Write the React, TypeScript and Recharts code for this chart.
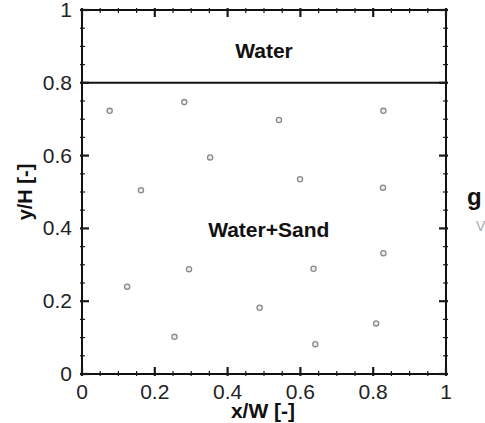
import {
  ScatterChart,
  Scatter,
  XAxis,
  YAxis,
  ReferenceLine,
  ReferenceDot,
  Customized,
} from 'recharts';

const FONT = '"Liberation Sans", Arial, sans-serif';

// particle positions (x/W, y/H)
const POINT_X = [0.076, 0.281, 0.541, 0.828, 0.352, 0.162, 0.599, 0.827, 0.828, 0.294, 0.636, 0.124, 0.488, 0.808, 0.254, 0.641];
const POINT_Y = [0.723, 0.747, 0.698, 0.723, 0.595, 0.505, 0.535, 0.512, 0.332, 0.288, 0.289, 0.24, 0.182, 0.139, 0.102, 0.082];

const MAJOR_TICKS = [0, 0.2, 0.4, 0.6, 0.8, 1];
const ALL_TICKS = [0, 0.05, 0.1, 0.15, 0.2, 0.25, 0.3, 0.35, 0.4, 0.45, 0.5, 0.55, 0.6, 0.65, 0.7, 0.75, 0.8, 0.85, 0.9, 0.95, 1];

const INTERFACE_Y = 0.8;
const REGION_TEXT = ['Water', 'Water+Sand'];
const REGION_X = [0.5, 0.513];
const REGION_Y = [0.888, 0.398];

const points = POINT_X.map((x, i) => ({ x, y: POINT_Y[i] }));

const isMajor = (v: number) => MAJOR_TICKS.includes(v);
const TICK_COLOR = '#1a1a1a';

function BottomTick(props: any) {
  const { x, y, payload } = props;
  const major = isMajor(payload.value);
  return (
    <g>
      <line x1={x} x2={x} y1={y} y2={y - (major ? 9 : 5)} stroke={TICK_COLOR} strokeWidth={major ? 2.2 : 1.2} />
      {major && (
        <text x={x} y={y + 23} textAnchor="middle" fontSize={21} fill="#222" fontFamily={FONT}>
          {String(payload.value)}
        </text>
      )}
    </g>
  );
}

function TopTick(props: any) {
  const { x, y, payload } = props;
  const major = isMajor(payload.value);
  return (
    <g>
      <line x1={x} x2={x} y1={y} y2={y + (major ? 9 : 5)} stroke={TICK_COLOR} strokeWidth={major ? 2.2 : 1.2} />
    </g>
  );
}

function LeftTick(props: any) {
  const { x, y, payload } = props;
  const major = isMajor(payload.value);
  return (
    <g>
      <line x1={x} x2={x + (major ? 9 : 5)} y1={y} y2={y} stroke={TICK_COLOR} strokeWidth={major ? 2.2 : 1.2} />
      {major && (
        <text x={x - 8} y={y + 7} textAnchor="end" fontSize={21} fill="#222" fontFamily={FONT}>
          {String(payload.value)}
        </text>
      )}
    </g>
  );
}

function RightTick(props: any) {
  const { x, y, payload } = props;
  const major = isMajor(payload.value);
  return (
    <g>
      <line x1={x} x2={x - (major ? 9 : 5)} y1={y} y2={y} stroke={TICK_COLOR} strokeWidth={major ? 2.2 : 1.2} />
    </g>
  );
}

const Particle = (p: any) => (
  <circle cx={p.cx} cy={p.cy} r={2.6} fill="#eeeeee" stroke="#8a8a8a" strokeWidth={1.3} />
);

const Nothing = () => <g />;

const XTitle = (p: any) => {
  const vb = p.viewBox;
  return (
    <text x={vb.x + vb.width / 2 - 1} y={vb.y + 44} textAnchor="middle" fontSize={21} fontWeight="bold" fill="#111" fontFamily={FONT}>
      x/W [-]
    </text>
  );
};

const YTitle = (p: any) => {
  const vb = p.viewBox;
  return (
    <text
      transform={`translate(${vb.x + 32},${vb.y + vb.height / 2}) rotate(-90)`}
      textAnchor="middle"
      fontSize={20}
      fontWeight="bold"
      fill="#111"
      fontFamily={FONT}
    >
      y/H [-]
    </text>
  );
};

// fragments of the neighbouring panel on the right
const Neighbour = () => (
  <g fontFamily={FONT}>
    <text x={467} y={205} fontSize={24} fontWeight="bold" fill="#111">g</text>
    <text x={476} y={231} fontSize={14} fill="#aaa">V</text>
  </g>
);

export default function App() {
  return (
    <div style={{ position: 'absolute', left: 0, top: 0 }}>
      <ScatterChart width={485} height={423} margin={{ top: 9, right: 38, bottom: 0, left: 0 }}>
        <XAxis
          xAxisId="b"
          type="number"
          dataKey="x"
          domain={[0, 1]}
          ticks={ALL_TICKS}
          interval={0}
          tickSize={0}
          tickLine={false}
          tick={BottomTick}
          axisLine={{ stroke: '#111', strokeWidth: 2 }}
          height={49}
          label={{ content: XTitle }}
        />
        <XAxis
          xAxisId="t"
          orientation="top"
          type="number"
          dataKey="x"
          domain={[0, 1]}
          ticks={ALL_TICKS}
          interval={0}
          tickSize={0}
          tickLine={false}
          tick={TopTick}
          axisLine={{ stroke: '#111', strokeWidth: 2 }}
          height={1}
        />
        <YAxis
          yAxisId="l"
          type="number"
          dataKey="y"
          domain={[0, 1]}
          ticks={ALL_TICKS}
          interval={0}
          tickSize={0}
          tickLine={false}
          tick={LeftTick}
          axisLine={{ stroke: '#111', strokeWidth: 2 }}
          width={82}
          label={{ content: YTitle }}
        />
        <YAxis
          yAxisId="r"
          orientation="right"
          type="number"
          dataKey="y"
          domain={[0, 1]}
          ticks={ALL_TICKS}
          interval={0}
          tickSize={0}
          tickLine={false}
          tick={RightTick}
          axisLine={{ stroke: '#111', strokeWidth: 2 }}
          width={1}
        />
        <ReferenceLine xAxisId="b" yAxisId="l" y={INTERFACE_Y} stroke="#111" strokeWidth={2} />
        {REGION_TEXT.map((t, i) => (
          <ReferenceDot
            key={t}
            xAxisId="b"
            yAxisId="l"
            x={REGION_X[i]}
            y={REGION_Y[i]}
            r={0}
            fill="none"
            stroke="none"
            label={{ value: t, position: 'center', fontSize: 21, fontWeight: 'bold', fill: '#111', fontFamily: FONT }}
          />
        ))}
        {/* same particles bound to the top/right frame axes so those axes draw their ticks */}
        <Scatter xAxisId="t" yAxisId="r" data={points} shape={Nothing} isAnimationActive={false} />
        <Scatter xAxisId="b" yAxisId="l" data={points} shape={Particle} isAnimationActive={false} />
        <Customized component={Neighbour} />
      </ScatterChart>
    </div>
  );
}
